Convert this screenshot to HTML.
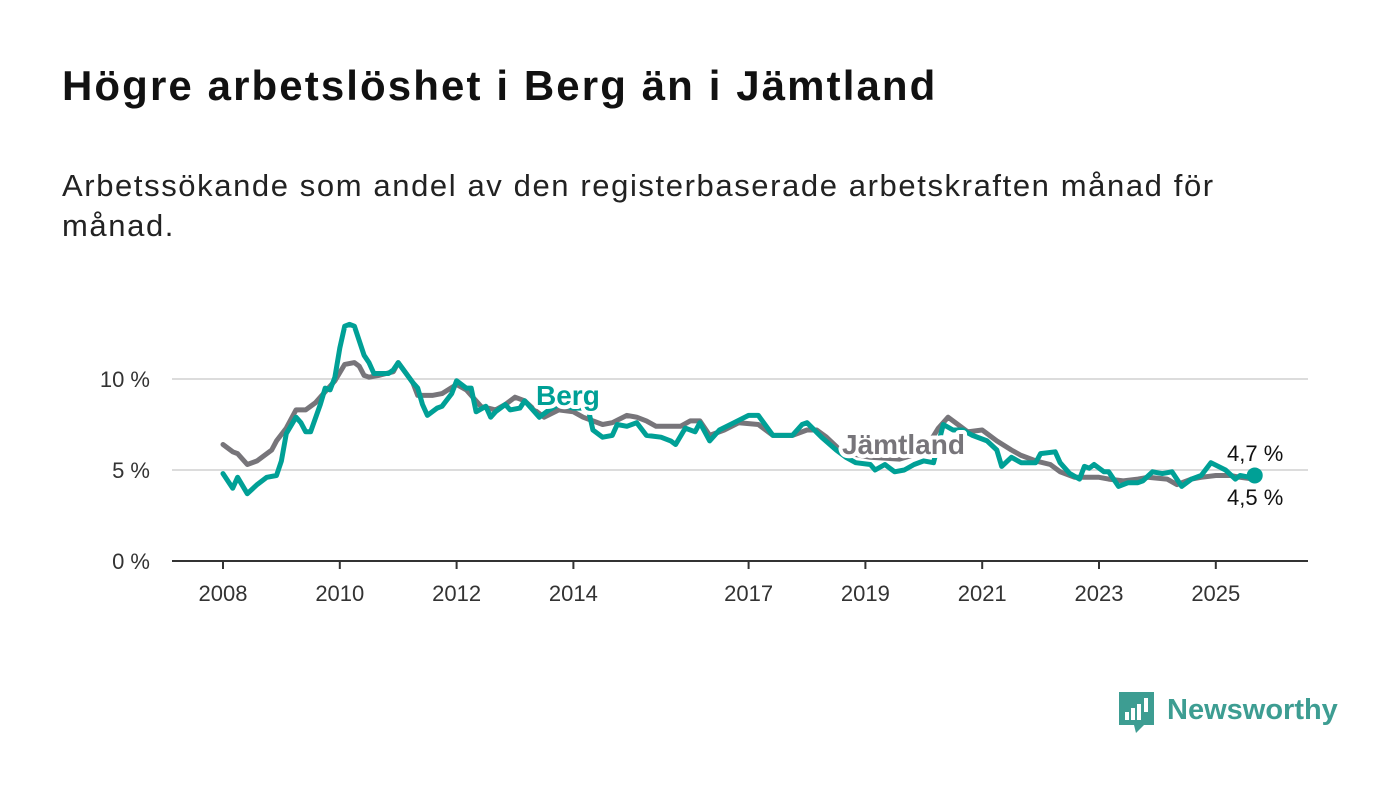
<!DOCTYPE html>
<html><head><meta charset="utf-8"><style>
body{margin:0;background:#fff;width:1400px;height:794px;overflow:hidden;font-family:"Liberation Sans",sans-serif;}
h1{position:absolute;left:62px;top:62px;margin:0;font-size:42px;letter-spacing:2.1px;font-weight:bold;color:#111;}
p{position:absolute;left:62px;top:166px;margin:0;font-size:31px;letter-spacing:1.6px;line-height:40px;color:#222;width:1300px;}
svg{position:absolute;left:0;top:0;}
</style></head><body>
<h1>Högre arbetslöshet i Berg än i Jämtland</h1>
<p>Arbetssökande som andel av den registerbaserade arbetskraften månad för<br>månad.</p>
<svg id="chart" width="1400" height="794"></svg>
<script>
const yearTicks=[2008,2010,2012,2014,2017,2019,2021,2023,2025];
const yTicks=[0,5,10];
const yTickLabels=["0 %","5 %","10 %"];
const bergMonths=[0,2,3,5,7,9,11,12,13,15,16,17,18,20,21,22,23,24,25,26,27,29,30,31,34,35,36,39,40,41,42,44,45,47,48,50,51,52,54,55,56,58,59,61,62,65,67,69,72,75,76,78,80,81,83,85,87,90,92,93,95,97,98,100,102,105,108,110,113,117,119,120,123,126,128,130,133,134,136,138,140,142,144,146,148,150,152,154,157,159,160,162,164,167,168,171,172,174,176,177,178,179,181,182,184,186,188,189,191,193,195,197,199,201,203,206,208,209,211,212];
const bergValues=[4.8,4.0,4.6,3.7,4.2,4.6,4.7,5.5,7.0,7.9,7.6,7.1,7.1,8.6,9.5,9.4,10.1,11.7,12.9,13.0,12.9,11.3,10.9,10.3,10.3,10.5,10.9,9.8,9.5,8.6,8.0,8.4,8.5,9.2,9.9,9.5,9.5,8.2,8.5,7.9,8.2,8.6,8.3,8.4,8.8,7.9,8.3,8.6,8.4,8.4,7.2,6.8,6.9,7.5,7.4,7.6,6.9,6.8,6.6,6.4,7.3,7.1,7.6,6.6,7.2,7.6,8.0,8.0,6.9,6.9,7.5,7.6,6.8,6.1,5.7,5.4,5.3,5.0,5.3,4.9,5.0,5.3,5.5,5.4,7.5,7.2,7.2,6.9,6.6,6.1,5.2,5.7,5.4,5.4,5.9,6.0,5.4,4.8,4.5,5.2,5.1,5.3,4.9,4.9,4.1,4.3,4.3,4.4,4.9,4.8,4.9,4.1,4.5,4.7,5.4,5.0,4.5,4.7,4.6,4.7];
const jamtMonths=[0,2,3,5,7,10,11,13,15,17,19,21,23,25,27,28,29,30,32,35,36,39,40,42,43,45,48,50,53,56,58,60,62,64,66,69,72,74,78,80,83,85,87,89,94,96,98,100,103,106,110,113,117,120,122,124,126,127,133,139,144,147,149,151,153,156,159,162,164,167,170,172,175,178,180,182,185,188,190,194,196,199,201,204,207,209,212];
const jamtValues=[6.4,6.0,5.9,5.3,5.5,6.1,6.6,7.3,8.3,8.3,8.7,9.3,9.9,10.8,10.9,10.7,10.2,10.1,10.2,10.4,10.9,9.8,9.1,9.1,9.1,9.2,9.7,9.4,8.5,8.3,8.6,9.0,8.8,8.3,7.9,8.3,8.2,7.9,7.5,7.6,8.0,7.9,7.7,7.4,7.4,7.7,7.7,6.9,7.2,7.6,7.5,6.9,6.9,7.2,7.2,6.8,6.3,6.0,5.7,5.6,6.0,7.3,7.9,7.5,7.1,7.2,6.6,6.1,5.8,5.5,5.3,4.9,4.6,4.6,4.6,4.5,4.4,4.5,4.6,4.5,4.2,4.5,4.6,4.7,4.7,4.6,4.5];
const NS="http://www.w3.org/2000/svg";
const svg=document.getElementById('chart');
const X=y=>223+(y-2008)*58.4;
const XM=m=>X(2008+m/12);
const Y=v=>561-v*18.2;
function mk(t,a,p){const e=document.createElementNS(NS,t);for(const k in a)e.setAttribute(k,a[k]);(p||svg).appendChild(e);return e;}
yTicks.forEach((v,i)=>{
 if(v>0){const g=mk('line',{x1:172,x2:1308,y1:Y(v),y2:Y(v),stroke:'#dcdcdc','stroke-width':2});
 
 }
 const t=mk('text',{x:150,y:Y(v)+8,'text-anchor':'end','font-size':22,fill:'#333'});t.textContent=yTickLabels[i];
 
 
});
const ax=mk('line',{x1:172,x2:1308,y1:561,y2:561,stroke:'#333','stroke-width':2});


yearTicks.forEach(y=>{
 const l=mk('line',{x1:X(y),x2:X(y),y1:561,y2:569,stroke:'#333','stroke-width':2});
 
 
 const t=mk('text',{x:X(y),y:601,'text-anchor':'middle','font-size':22,fill:'#333'});t.textContent=y;
 
 
});
function line(ms,vs,col,name){
 const d=ms.map((m,i)=>(i?'L':'M')+XM(m).toFixed(1)+','+Y(vs[i]).toFixed(1)).join('');
 const p=mk('path',{d:d,fill:'none',stroke:col,'stroke-width':5,'stroke-linejoin':'round','stroke-linecap':'round'});
 
 
}
line(jamtMonths,jamtValues,'#77757a','jamtland-line');
line(bergMonths,bergValues,'#00a096','berg-line');
const lb=mk('text',{x:536,y:405,'font-size':28,'font-weight':'bold',fill:'#00a096',stroke:'#fff','stroke-width':8,'paint-order':'stroke','stroke-linejoin':'round'});lb.textContent='Berg';


const lj=mk('text',{x:842,y:454,'font-size':28,'font-weight':'bold',fill:'#77757a',stroke:'#fff','stroke-width':8,'paint-order':'stroke','stroke-linejoin':'round'});lj.textContent='Jämtland';


const lm=bergMonths.length-1;
const dot=mk('circle',{cx:XM(bergMonths[lm]),cy:Y(bergValues[lm]),r:8,fill:'#00a096'});


const v1=mk('text',{x:1227,y:461,'font-size':22,fill:'#111'});v1.textContent='4,7 %';


const v2=mk('text',{x:1227,y:505,'font-size':22,fill:'#111'});v2.textContent='4,5 %';


// logo
const lg=mk('g',{});


mk('path',{d:'M1119,692h35v33h-10l-8,8l-2,-8h-15z',fill:'#3d9d92'},lg);
mk('rect',{x:1125,y:712,width:4,height:8,fill:'#fff'},lg);
mk('rect',{x:1131,y:708,width:4,height:12,fill:'#fff'},lg);
mk('rect',{x:1137,y:704,width:4,height:16,fill:'#fff'},lg);
mk('rect',{x:1144,y:698,width:4,height:14,fill:'#fff'},lg);
const lt=mk('text',{x:1167,y:719,'font-size':29,'font-weight':'bold',fill:'#3d9d92'},lg);lt.textContent='Newsworthy';
</script>
</body></html>
